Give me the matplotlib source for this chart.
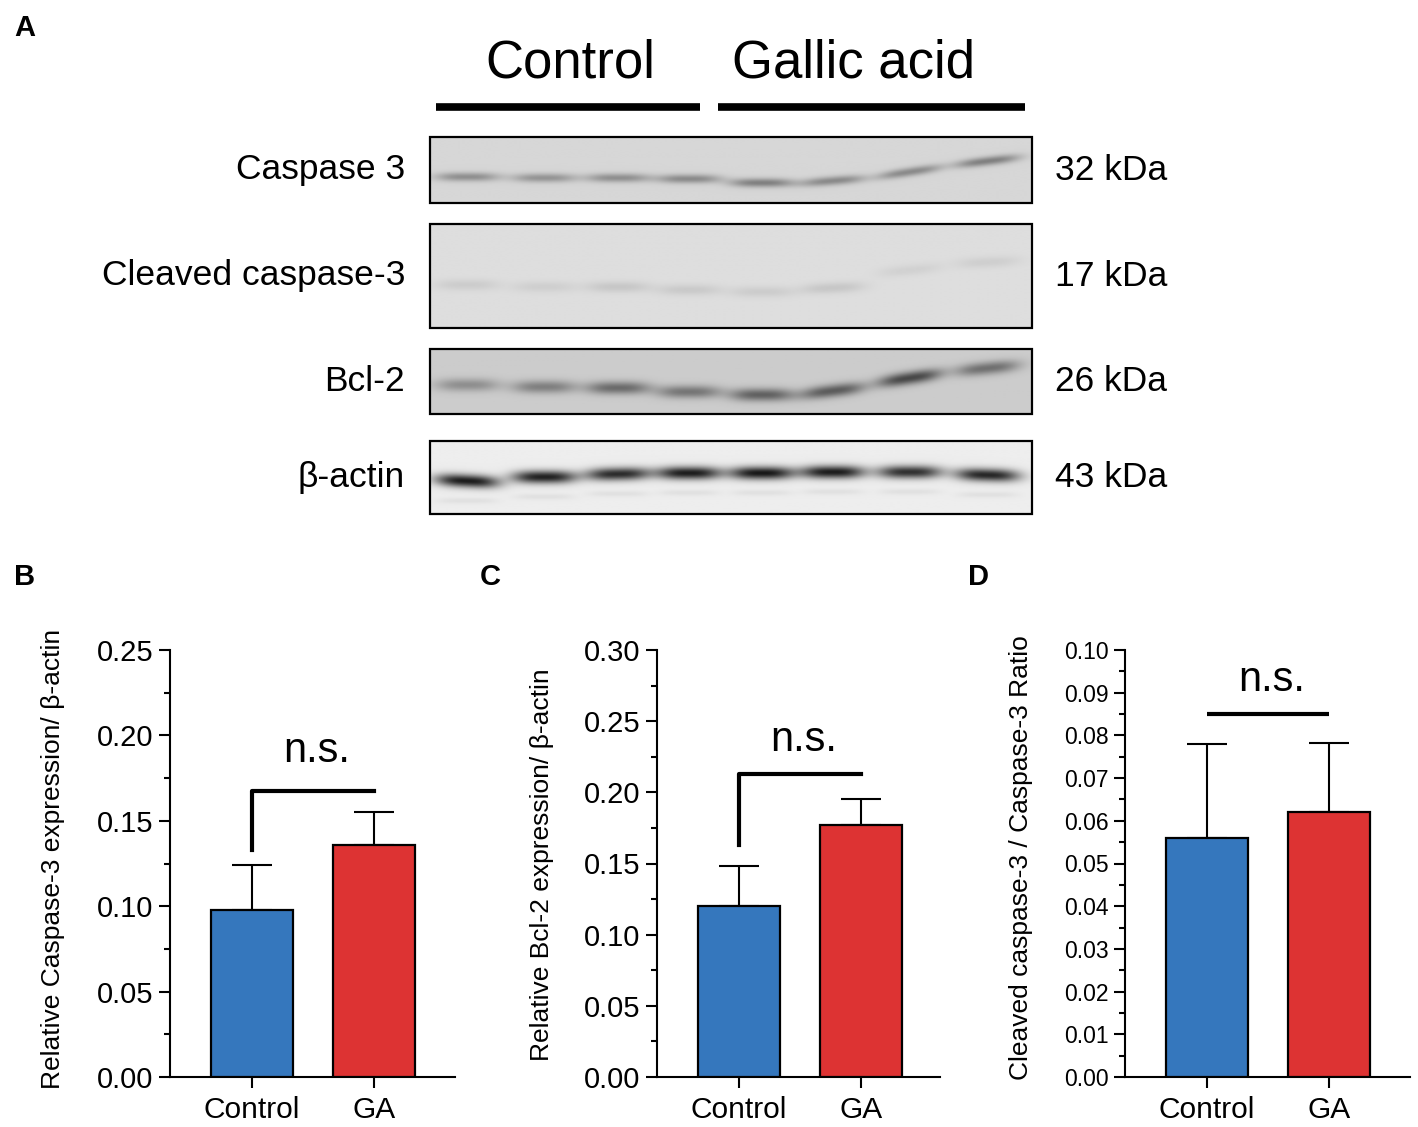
import numpy as np
import matplotlib.pyplot as plt
from matplotlib.patches import Rectangle

plt.rcParams['font.family'] = ['Liberation Sans', 'DejaVu Sans']

W, H = 1418, 1127

# bar chart data
groups = ["Control", "GA"]
casp3_mean = [0.098, 0.136]
casp3_err = [0.026, 0.019]
bcl2_mean = [0.120, 0.177]
bcl2_err = [0.028, 0.018]
ratio_mean = [0.056, 0.062]
ratio_err = [0.022, 0.0163]

# blot data: 8 lanes, band centre (px), darkness
lane_x = [467, 544, 618, 689, 762, 833, 910, 988]
blot_names = ["Caspase 3", "Cleaved caspase-3", "Bcl-2", "β-actin"]
blot_kda = ["32 kDa", "17 kDa", "26 kDa", "43 kDa"]
blot_top = [137, 224, 349, 441]
blot_bottom = [203, 328, 414, 514]
blot_bg = [0.84, 0.87, 0.80, 0.93]
casp3_band_y = [177, 178, 178, 179, 183, 181, 172, 161]
casp3_band_d = [0.28, 0.26, 0.28, 0.30, 0.34, 0.30, 0.30, 0.34]
cleaved_band_y = [285, 287, 287, 290, 292, 288, 270, 262]
cleaved_band_d = [0.07, 0.06, 0.09, 0.08, 0.07, 0.09, 0.05, 0.06]
bcl2_band_y = [385, 387, 388, 392, 395, 391, 378, 368]
bcl2_band_d = [0.24, 0.30, 0.38, 0.34, 0.42, 0.44, 0.52, 0.36]
actin_band_y = [481, 477, 474, 473, 473, 472, 472, 475]
actin_band_d = [0.82, 0.80, 0.76, 0.82, 0.84, 0.82, 0.74, 0.78]
band_slope = [[0, 0, 0, 0, 0, -0.08, -0.15, -0.12],
              [0, 0, 0, 0, 0, -0.05, -0.1, -0.05],
              [0, 0, 0, 0, 0, -0.12, -0.15, -0.1],
              [0.05, 0, -0.02, 0, 0, 0, 0, 0.03]]
band_y = [casp3_band_y, cleaved_band_y, bcl2_band_y, actin_band_y]
band_d = [casp3_band_d, cleaved_band_d, bcl2_band_d, actin_band_d]
band_h = [4.5, 5.5, 6.5, 6.5]

fig = plt.figure(figsize=(W / 100, H / 100), dpi=100)

# ---- panel A (drawn in pixel coords) ----
axA = fig.add_axes([0, 0, 1, 1])
axA.set_xlim(0, W)
axA.set_ylim(H, 0)
axA.axis('off')

bx0, bx1 = 430, 1032
for k in range(4):
    y0, y1 = blot_top[k], blot_bottom[k]
    xs = np.arange(bx0, bx1 + 1)
    ys = np.arange(y0, y1 + 1)
    X, Y = np.meshgrid(xs, ys)
    img = np.full(X.shape, blot_bg[k])
    for i in range(8):
        dx = X - lane_x[i]
        dy = Y - (band_y[k][i] + band_slope[k][i] * dx)
        img -= band_d[k][i] * np.exp(-(np.abs(dx) / 32) ** 3) * np.exp(-(dy / band_h[k]) ** 2)
        if k == 3:
            dy2 = Y - (band_y[k][i] + 20)
            img -= 0.05 * np.exp(-(np.abs(dx) / 30) ** 4) * np.exp(-(dy2 / 3) ** 2)
    axA.imshow(np.clip(img, 0, 1), cmap='gray', vmin=0, vmax=1,
               extent=(bx0, bx1, y1, y0), aspect='auto', interpolation='bilinear')
    axA.add_patch(Rectangle((bx0, y0), bx1 - bx0, y1 - y0, fill=False,
                            edgecolor='black', linewidth=1.6))
    axA.text(405, (y0 + y1) / 2, blot_names[k], ha='right', va='center', fontsize=25.5)
    axA.text(1055, (y0 + y1) / 2, blot_kda[k], ha='left', va='center', fontsize=25.5)

axA.text(570, 63, "Control", ha='center', va='center', fontsize=38)
axA.text(853, 63, "Gallic acid", ha='center', va='center', fontsize=38)
axA.plot([436, 700], [107, 107], color='black', linewidth=5.5, solid_capstyle='butt')
axA.plot([718, 1025], [107, 107], color='black', linewidth=5.5, solid_capstyle='butt')
axA.set_xlim(0, W)
axA.set_ylim(H, 0)

for lab, (px, py) in zip("ABCD", [(14, 28), (14, 577), (480, 577), (968, 577)]):
    fig.text(px / W, 1 - py / H, lab, fontsize=21, fontweight='bold', ha='left', va='center')

colors = ['#3577BD', '#DD3333']


def bar_panel(x_spine, x_end, ymax, major, minor, means, errs, ylabel, label_x, label_y,
              tick_fs, bracket, ns_y):
    left = (x_spine) / W
    bottom = (H - 1077) / H
    ax = fig.add_axes([left, bottom, (x_end - x_spine) / W, 427 / H])
    ax.set_zorder(2)
    ax.patch.set_alpha(0)
    x = np.arange(len(groups))
    ax.bar(x, means, width=0.672, color=colors, edgecolor='black', linewidth=1.6, zorder=3)
    ax.errorbar(x, means, yerr=[[0] * len(errs), errs], fmt='none', ecolor='black',
                elinewidth=1.5, capsize=14.5, capthick=1.5, zorder=2)
    ax.set_xlim(-0.672, (x_end - x_spine) / 122 - 0.672)
    ax.set_ylim(0, ymax)
    ax.set_yticks(np.arange(0, ymax + 1e-9, major))
    ax.set_yticks(np.arange(0, ymax + 1e-9, minor), minor=True)
    ax.set_yticklabels([f"{v:.2f}" for v in np.arange(0, ymax + 1e-9, major)])
    ax.set_xticks(x)
    ax.set_xticklabels(groups)
    for s in ['top', 'right']:
        ax.spines[s].set_visible(False)
    for s in ['left', 'bottom']:
        ax.spines[s].set_linewidth(1.5)
    ax.tick_params(axis='y', which='major', length=8, width=1.5, labelsize=tick_fs, pad=4)
    ax.tick_params(axis='y', which='minor', length=4.5, width=1.5)
    ax.tick_params(axis='x', length=8, width=1.5, labelsize=21.5, pad=6)
    fig.text(label_x / W, 1 - label_y / H, ylabel, rotation=90, ha='center', va='center',
             fontsize=19)
    by, bl = bracket
    if bl is None:
        ax.plot([0, 1], [by, by], color='black', linewidth=3, solid_capstyle='butt')
    else:
        ax.plot([0, 0, 1], [bl, by, by], color='black', linewidth=3)
    ax.text(0.53, ns_y, "n.s.", ha='center', va='center', fontsize=30)
    return ax


bar_panel(170, 455, 0.25, 0.05, 0.025, casp3_mean, casp3_err,
          "Relative Caspase-3 expression/ β-actin", 53, 859, 21, (0.1675, 0.133), 0.191)
bar_panel(657, 940, 0.30, 0.05, 0.025, bcl2_mean, bcl2_err,
          "Relative Bcl-2 expression/ β-actin", 542, 865, 21, (0.213, 0.163), 0.237)
bar_panel(1125, 1410, 0.10, 0.01, 0.005, ratio_mean, ratio_err,
          "Cleaved caspase-3 / Caspase-3 Ratio", 1021, 858, 16.5, (0.085, None), 0.093)

fig.savefig("out.png", dpi=100)
